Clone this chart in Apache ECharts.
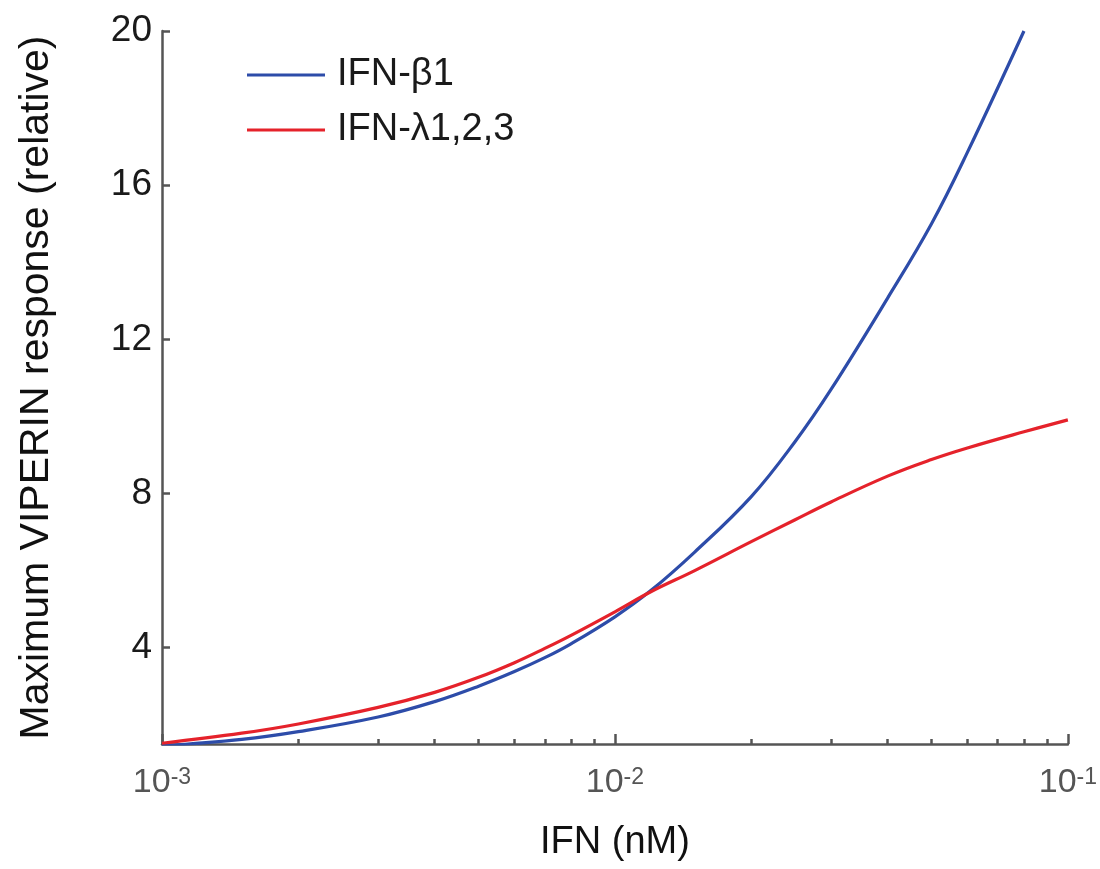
<!DOCTYPE html>
<html>
<head>
<meta charset="utf-8">
<script src="https://cdn.jsdelivr.net/npm/echarts@6/dist/echarts.min.js"></script>
<style>
  html, body { margin: 0; padding: 0; background: #fff; }
  #chart { width: 1100px; height: 869px; }
</style>
</head>
<body>
<div id="chart"></div>
<script>
// IFN concentration (nM), sampled along the curves
const ifnConc = [0.001, 0.0015, 0.002, 0.003, 0.004, 0.005, 0.006, 0.007, 0.008, 0.01,
  0.012, 0.015, 0.02, 0.025, 0.03, 0.04, 0.05, 0.06, 0.08, 0.1]
// relative VIPERIN response
const betaValues = [1.45, 1.62, 1.82, 2.2, 2.6, 3.0, 3.38, 3.74, 4.1, 4.8,
  5.48, 6.48, 7.92, 9.35, 10.7, 13.07, 15.0, 16.85, 20.0, null]
const lambdaValues = [1.52, 1.78, 2.02, 2.45, 2.84, 3.23, 3.61, 3.98, 4.32, 4.93,
  5.45, 6.0, 6.75, 7.32, 7.78, 8.45, 8.88, 9.18, 9.6, 9.91]
const seriesNames = ['IFN-β1', 'IFN-λ1,2,3']
const yTicks = [4, 8, 12, 16, 20]
const xDecades = [-3, -2, -1]
const minorFactors = [2, 3, 4, 5, 6, 7, 8, 9]

const toPoints = vals => ifnConc.map((c, i) => [Math.log10(c), vals[i]]).filter(p => p[1] !== null)

const minorTicks = []
xDecades.slice(0, -1).forEach(d => {
  minorFactors.forEach(k => minorTicks.push(d + Math.log10(k)))
})

const axisColor = '#555'
const chart = echarts.init(document.getElementById('chart'))
const option = {
  animation: false,
  textStyle: { fontFamily: 'Liberation Sans, Arial, sans-serif' },
  grid: { left: 162, right: 32, top: 31, bottom: 125 },
  legend: {
    orient: 'vertical',
    left: 242,
    top: 51,
    icon: 'rect',
    itemWidth: 78,
    itemHeight: 3,
    itemGap: 17,
    textStyle: { fontSize: 38, color: '#1a1a1a', padding: [0, 0, 0, 7] },
    data: seriesNames
  },
  xAxis: [{
    type: 'value',
    position: 'bottom',
    min: -3,
    max: -1,
    name: 'IFN (nM)',
    nameLocation: 'middle',
    nameGap: 80,
    nameTextStyle: { fontSize: 38, color: '#111' },
    axisLine: { lineStyle: { color: axisColor, width: 2.5 } },
    axisTick: { inside: true, length: 10, customValues: xDecades, lineStyle: { color: axisColor, width: 2.5 } },
    axisLabel: {
      customValues: xDecades,
      margin: 22,
      formatter: v => '{b|10}{s|' + v + '}',
      rich: {
        b: { fontSize: 34, lineHeight: 34, color: axisColor },
        s: { fontSize: 23, lineHeight: 23, color: axisColor, verticalAlign: 'top' }
      }
    },
    splitLine: { show: false }
  }, {
    type: 'value',
    position: 'bottom',
    min: -3,
    max: -1,
    axisLine: { show: false },
    axisTick: { inside: true, length: 5, customValues: minorTicks, lineStyle: { color: axisColor, width: 2.5 } },
    axisLabel: { show: false },
    splitLine: { show: false }
  }],
  yAxis: {
    type: 'value',
    min: 1.5,
    max: 20,
    name: 'Maximum VIPERIN response (relative)',
    nameLocation: 'middle',
    nameGap: 105,
    nameTextStyle: { fontSize: 41, color: '#111' },
    axisLine: { show: true, lineStyle: { color: axisColor, width: 2.5 } },
    axisTick: { show: true, inside: true, length: 8, customValues: yTicks, lineStyle: { color: axisColor, width: 2.5 } },
    axisLabel: { customValues: yTicks, fontSize: 37, color: '#1a1a1a', margin: 10 },
    splitLine: { show: false }
  },
  series: [{
    name: seriesNames[0],
    type: 'line',
    smooth: 0.4,
    showSymbol: false,
    symbol: 'none',
    color: '#2d4ca9',
    lineStyle: { width: 3.2 },
    data: toPoints(betaValues)
  }, {
    name: seriesNames[1],
    type: 'line',
    smooth: 0.4,
    showSymbol: false,
    symbol: 'none',
    color: '#e5222b',
    lineStyle: { width: 3.2 },
    data: toPoints(lambdaValues)
  }]
}
chart.setOption(option)
</script>
</body>
</html>
